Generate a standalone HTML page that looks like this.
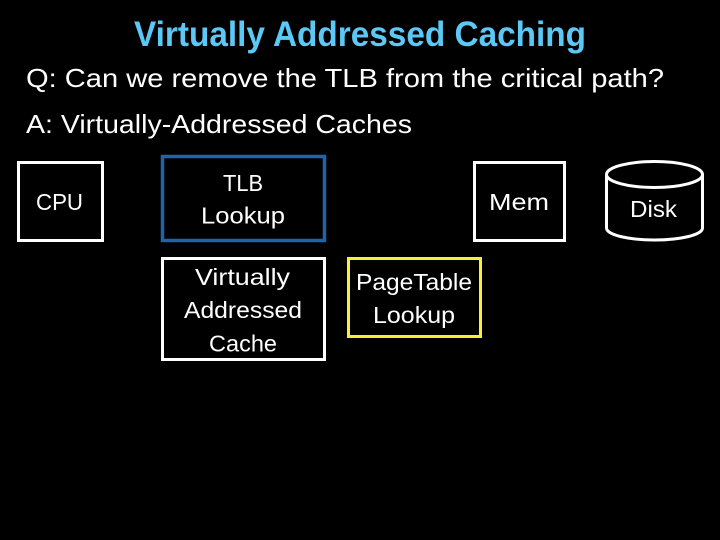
<!DOCTYPE html>
<html>
<head>
<meta charset="utf-8">
<style>
html,body{margin:0;padding:0;background:#000;width:720px;height:540px;overflow:hidden}
svg{display:block}
text{font-family:"Liberation Sans",sans-serif;fill:#fff;font-size:23.5px}
</style>
</head>
<body>
<svg width="720" height="540" viewBox="0 0 720 540" xmlns="http://www.w3.org/2000/svg">
<rect width="720" height="540" fill="#000"/>
<text x="134" y="46" textLength="452" lengthAdjust="spacingAndGlyphs" style="font-size:35px;font-weight:bold;fill:#5cc8f5">Virtually Addressed Caching</text>
<text x="26" y="87" textLength="638" lengthAdjust="spacingAndGlyphs" style="font-size:26px">Q: Can we remove the TLB from the critical path?</text>
<text x="26" y="133" textLength="386" lengthAdjust="spacingAndGlyphs" style="font-size:26px">A: Virtually-Addressed Caches</text>

<rect x="18.5" y="162.5" width="84" height="78" fill="none" stroke="#fff" stroke-width="3"/>
<rect x="162.5" y="156.5" width="162" height="84" fill="none" stroke="#1f64a8" stroke-width="3.5"/>
<rect x="162.5" y="258.5" width="162" height="101" fill="none" stroke="#fff" stroke-width="3"/>
<rect x="474.5" y="162.5" width="90" height="78" fill="none" stroke="#fff" stroke-width="3"/>
<rect x="348.5" y="258.5" width="132" height="78" fill="none" stroke="#f7f03a" stroke-width="3"/>

<path d="M606.5 174.5C606.5 167 629 161.5 654.5 161.5C680 161.5 702.5 167 702.5 174.5V228C702.5 235 680 240 654.5 240C629 240 606.5 235 606.5 228Z" fill="none" stroke="#fff" stroke-width="3"/>
<path d="M606.5 174.5C606.5 182 629 187.5 654.5 187.5C680 187.5 702.5 182 702.5 174.5" fill="none" stroke="#fff" stroke-width="3"/>

<text x="36" y="210" textLength="47" lengthAdjust="spacingAndGlyphs">CPU</text>
<text x="223" y="191" textLength="40" lengthAdjust="spacingAndGlyphs">TLB</text>
<text x="201" y="223.5" textLength="84" lengthAdjust="spacingAndGlyphs">Lookup</text>
<text x="195" y="285" textLength="95" lengthAdjust="spacingAndGlyphs">Virtually</text>
<text x="184" y="318" textLength="118" lengthAdjust="spacingAndGlyphs">Addressed</text>
<text x="209" y="351.5" textLength="68" lengthAdjust="spacingAndGlyphs">Cache</text>
<text x="489" y="210" textLength="60" lengthAdjust="spacingAndGlyphs">Mem</text>
<text x="630" y="217" textLength="47" lengthAdjust="spacingAndGlyphs">Disk</text>
<text x="356" y="290" textLength="116" lengthAdjust="spacingAndGlyphs">PageTable</text>
<text x="373" y="323" textLength="82" lengthAdjust="spacingAndGlyphs">Lookup</text>
</svg>
</body>
</html>
